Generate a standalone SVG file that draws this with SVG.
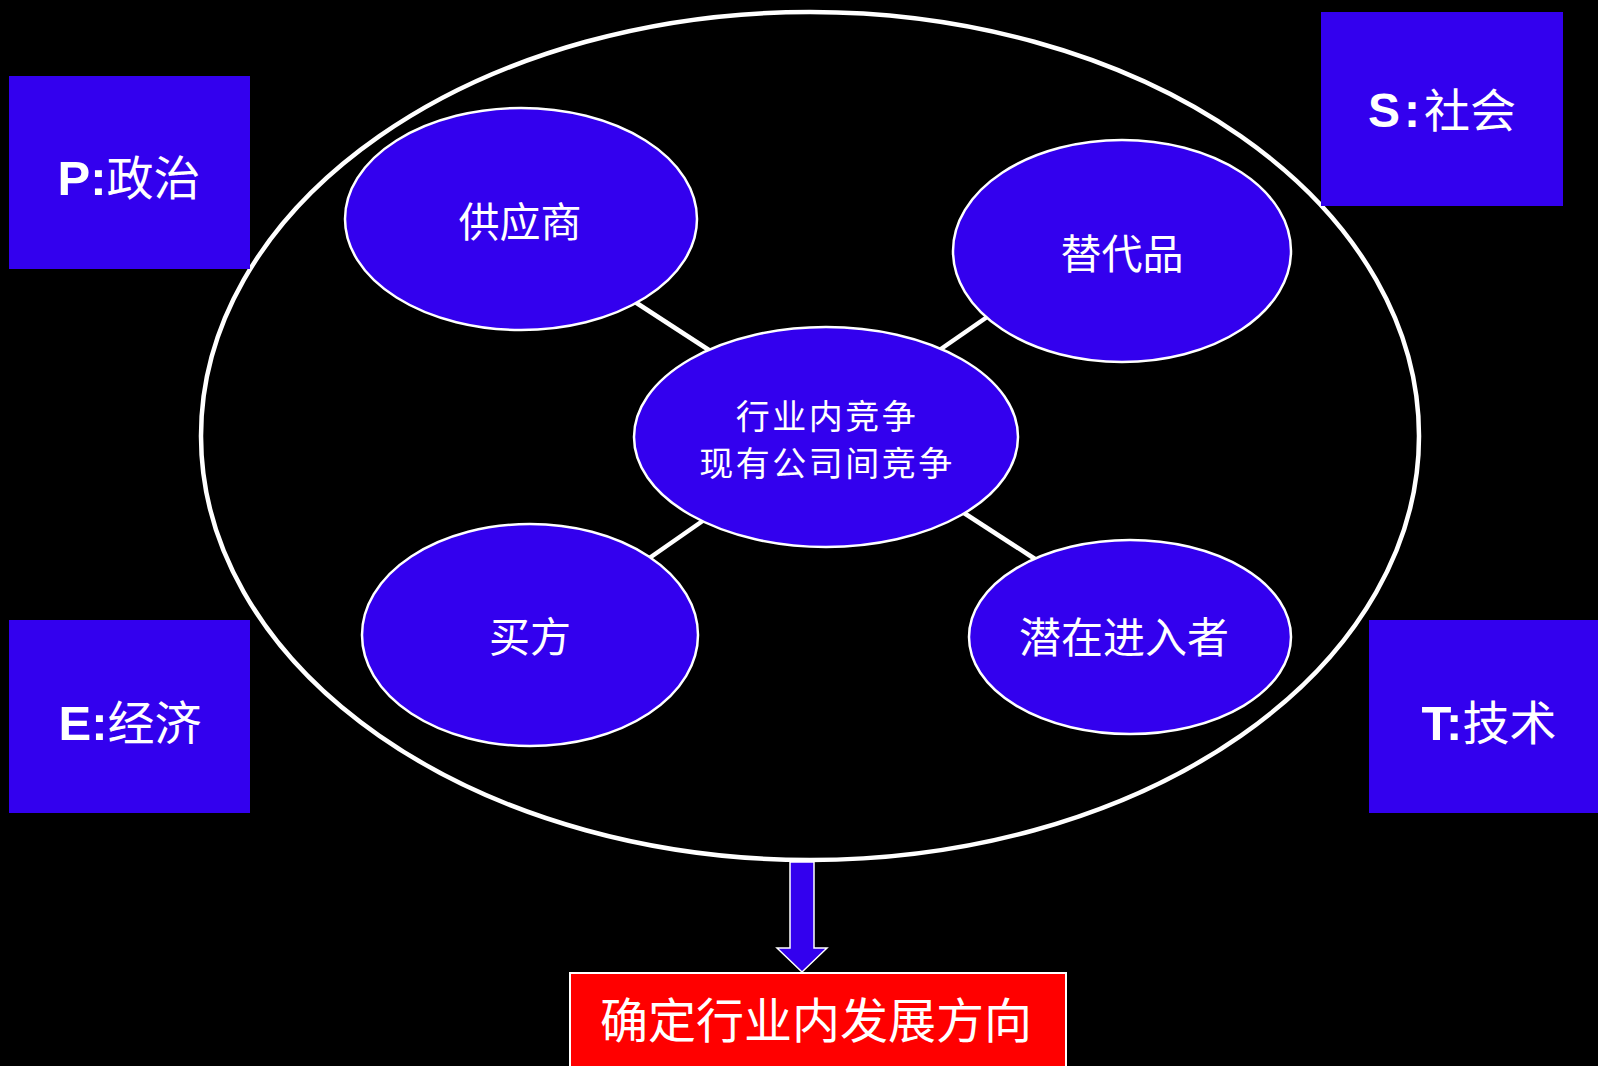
<svg xmlns="http://www.w3.org/2000/svg" width="1598" height="1066" viewBox="0 0 1598 1066">
<style>
.box{fill:#3300ee;}
.node{fill:#3300ee;stroke:#ffffff;stroke-width:2.5;}
.lbl{fill:#ffffff;font-family:"Liberation Serif","Noto Sans CJK SC",serif;text-anchor:middle;}
.lat{font-family:"Liberation Sans",Arial,sans-serif;font-weight:bold;}
.cjk{font-family:"Noto Sans CJK SC",sans-serif;}
.conn{stroke:#ffffff;stroke-width:4.5;}
</style>
<rect x="0" y="0" width="1598" height="1066" fill="#000000"/>

<g id="outer">
<ellipse cx="810" cy="436" rx="609" ry="424" fill="none" stroke="#ffffff" stroke-width="4.5"/>
</g>

<g id="connectors">
<line class="conn" x1="632" y1="300" x2="715" y2="354"/>
<line class="conn" x1="938" y1="351" x2="990" y2="315"/>
<line class="conn" x1="648" y1="559" x2="704" y2="520"/>
<line class="conn" x1="964" y1="513" x2="1035" y2="559"/>
<path d="M790,862 L814,862 L814,948 L827,948 L802,972 L777,948 L790,948 Z" fill="#3300ee" stroke="#ffffff" stroke-width="1.5"/>
</g>

<g id="box-p">
<rect class="box" x="9" y="76" width="241" height="193"/>
<text class="lbl" x="129" y="195" font-size="47"><tspan class="lat" font-size="49">P:</tspan><tspan class="cjk">政治</tspan></text>
</g>
<g id="box-s">
<rect class="box" x="1321" y="12" width="242" height="194"/>
<text class="lbl" x="1442" y="127" font-size="46"><tspan class="lat" font-size="48">S</tspan><tspan class="lat" font-size="48" dx="4">:</tspan><tspan class="cjk" dx="4">社会</tspan></text>
</g>
<g id="box-e">
<rect class="box" x="9" y="620" width="241" height="193"/>
<text class="lbl" x="130" y="740" font-size="47"><tspan class="lat" font-size="49">E:</tspan><tspan class="cjk">经济</tspan></text>
</g>
<g id="box-t">
<rect class="box" x="1369" y="620" width="240" height="193"/>
<text class="lbl" x="1489" y="740" font-size="47"><tspan class="lat" font-size="49">T:</tspan><tspan class="cjk">技术</tspan></text>
</g>

<g id="node-supplier">
<ellipse class="node" cx="521" cy="219" rx="176" ry="111"/>
<text class="lbl cjk" x="520" y="237" font-size="41">供应商</text>
</g>
<g id="node-substitute">
<ellipse class="node" cx="1122" cy="251" rx="169" ry="111"/>
<text class="lbl cjk" x="1122" y="269" font-size="41">替代品</text>
</g>
<g id="node-center">
<ellipse class="node" cx="826" cy="437" rx="192" ry="110"/>
<text class="lbl cjk" x="827" y="429" font-size="34" letter-spacing="2.5">行业内竞争</text>
<text class="lbl cjk" x="827" y="476" font-size="34" letter-spacing="2.5">现有公司间竞争</text>
</g>
<g id="node-buyer">
<ellipse class="node" cx="530" cy="635" rx="168" ry="111"/>
<text class="lbl cjk" x="530" y="652" font-size="41">买方</text>
</g>
<g id="node-entrant">
<ellipse class="node" cx="1130" cy="637" rx="161" ry="97"/>
<text class="lbl cjk" x="1124" y="653" font-size="42">潜在进入者</text>
</g>

<g id="node-result">
<rect x="570" y="973" width="496" height="100" fill="#ff0000" stroke="#ffffff" stroke-width="2"/>
<text class="lbl cjk" x="816" y="1038" font-size="48">确定行业内发展方向</text>
</g>
</svg>
